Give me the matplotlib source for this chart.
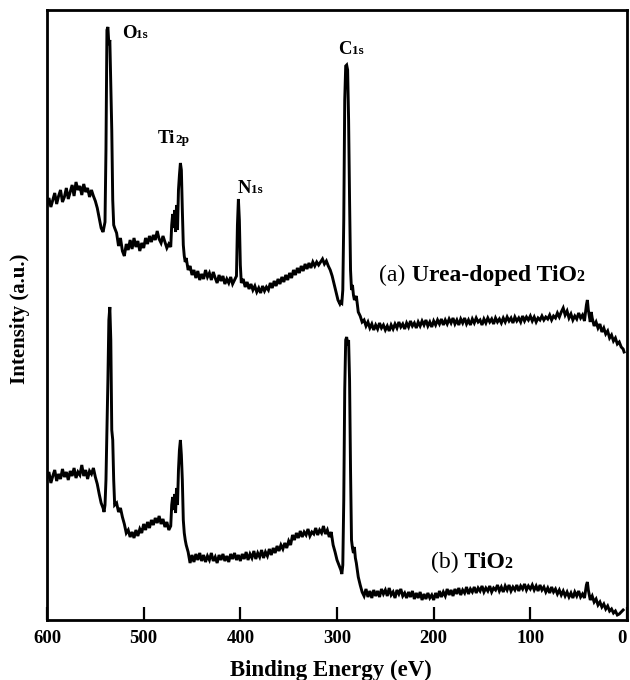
import matplotlib
matplotlib.use("Agg")
import matplotlib.pyplot as plt
from matplotlib.offsetbox import TextArea, HPacker, AnnotationBbox

# ---------------- data ----------------
# binding-energy sampling grid (eV), denser around the peaks
energy_a = (list(range(600, 539, -2)) + list(range(539, 529, -1)) + list(range(528, 471, -2))
            + list(range(471, 455, -1)) + list(range(454, 403, -2)) + list(range(403, 398, -1))
            + list(range(397, 296, -2)) + list(range(296, 281, -1)) + list(range(280, 43, -2))
            + [42, 41, 40, 38, 37, 36] + list(range(34, 3, -2)) + [3])

intensity_a = [
    415, 422, 413, 420, 427, 416, 424, 430, 418, 423, 432, 421, 428, 435, 424, 438,
    430, 434, 425, 436, 428, 432, 423, 430, 424, 419, 412, 402, 392, 388, 398,
    470, 590, 593, 575, 580, 535, 490, 420, 395, 392,
    387, 374, 382, 369, 364, 376, 370, 380, 371, 382, 373, 379, 369, 377, 372,
    382, 376, 384, 378, 385, 380, 389, 381, 377, 384, 378, 372, 376, 373,
    395, 406, 392, 410, 388, 415, 390, 430, 445, 457, 450, 410, 375, 364, 358, 362,
    350, 354, 345, 350, 342, 349, 340, 346, 341, 350, 343, 347, 340, 348, 342,
    337, 345, 339, 344, 336, 341, 337, 343, 336, 340, 344,
    395, 421, 400, 355, 337,
    341, 333, 338, 331, 336, 330, 334, 328, 332, 327, 334, 329, 333, 330, 337,
    332, 339, 334, 341, 336, 343, 338, 345, 340, 347, 342, 350, 345, 352, 347,
    354, 349, 356, 351, 357, 352, 358, 354, 358, 355, 358, 361, 356, 359, 354,
    350, 344, 336, 328, 320, 316,
    318, 317, 330, 400, 520, 554, 555, 550, 500, 420, 350, 330, 335, 325, 320,
    324, 308, 304, 298, 300, 294, 298, 292, 296, 290, 295, 291, 297, 292, 295,
    290, 294, 289, 295, 291, 296, 292, 298, 293, 296, 291, 297, 293, 299, 294,
    297, 292, 298, 294, 299, 295, 300, 294, 298, 293, 299, 295, 300, 296, 301,
    295, 300, 296, 301, 297, 302, 296, 300, 295, 301, 297, 302, 296, 300, 295,
    301, 297, 302, 298, 300, 295, 301, 297, 302, 298, 301, 296, 302, 298, 301,
    297, 302, 298, 303, 299, 302, 297, 303, 299, 302, 298, 304, 299, 303, 300,
    304, 299, 303, 298, 302, 300, 304, 300, 303, 301, 305, 300, 304, 302, 307,
    303, 308, 312, 305, 309, 302, 306, 300, 304, 301, 307, 302, 305, 299,
    315, 320, 310, 298, 308, 302,
    294, 298, 292, 296, 288, 292, 286, 289, 282, 285, 279, 282, 276, 278, 273, 271,
    268,
]

energy_b = (list(range(600, 541, -2)) + list(range(541, 529, -1)) + list(range(528, 471, -2))
            + list(range(471, 455, -1)) + list(range(454, 295, -2)) + list(range(295, 277, -1))
            + list(range(276, 43, -2)) + [42, 41, 40] + list(range(38, 3, -2)))

intensity_b = [
    142, 148, 137, 144, 150, 139, 146, 141, 151, 143, 148, 140, 149, 144, 152,
    142, 148, 145, 155, 144, 150, 141, 149, 146, 152, 143, 136, 126, 117, 112,
    108, 115, 140, 190, 240, 300, 313, 280, 190, 180, 140, 115,
    117, 108, 112, 103, 96, 87, 90, 83, 88, 82, 90, 84, 91, 87, 96, 90, 98, 92,
    100, 95, 102, 97, 104, 96, 101, 93, 98, 90, 94,
    115, 123, 110, 126, 107, 132, 115, 150, 170, 180, 165, 140, 100, 87, 80, 75,
    68, 57, 65, 58, 66, 60, 67, 59, 65, 58, 64, 60, 67, 59, 63, 57, 65, 60, 66, 59,
    64, 58, 66, 61, 67, 60, 65, 59, 66, 61, 68, 60, 66, 62, 69, 61, 67, 63, 70, 62,
    68, 64, 71, 65, 72, 67, 74, 69, 75, 71, 77, 72, 79, 75, 85, 80, 87, 82, 89, 83,
    88, 85, 91, 84, 88, 86, 92, 85, 90, 87, 94, 86, 90, 83, 88, 75, 68, 60, 55, 50,
    46, 55, 120, 230, 280, 283, 275, 280, 240, 150, 80, 72, 67, 73, 62, 57, 50, 43,
    35, 28, 24, 31, 23, 29, 22, 30, 24, 29, 23, 31, 26, 30, 24, 32, 25, 28, 22, 30,
    26, 31, 24, 27, 22, 28, 23, 29, 21, 27, 22, 28, 20, 26, 21, 27, 22, 25, 20, 27,
    22, 29, 23, 28, 24, 31, 25, 30, 24, 31, 26, 32, 25, 30, 27, 33, 26, 31, 28, 33,
    27, 32, 29, 34, 28, 32, 29, 34, 28, 32, 30, 35, 29, 33, 28, 34, 30, 35, 29, 33,
    30, 35, 29, 34, 31, 36, 30, 34, 31, 35, 30, 34, 29, 35, 30, 33, 28, 32, 27, 33,
    28, 31, 26, 30, 25, 29, 24, 28, 23, 27, 22, 28, 24, 29, 23, 26, 22,
    35, 38, 30,
    20, 24, 18, 21, 15, 18, 13, 16, 11, 14, 9, 11, 7, 9, 5, 6, 8, 10,
]

x_ticks = [600, 500, 400, 300, 200, 100, 0]
x_tick_labels = ["600", "500", "400", "300", "200", "100", "0"]

peak_labels = [("O", "1s"), ("Ti", "2p"), ("N", "1s"), ("C", "1s")]
peak_label_pos = [(0.129, 0.962), (0.191, 0.790), (0.329, 0.708), (0.502, 0.936)]

assert len(energy_a) == len(intensity_a), (len(energy_a), len(intensity_a))
assert len(energy_b) == len(intensity_b), (len(energy_b), len(intensity_b))

# ---------------- figure ----------------
SERIF = "Liberation Serif"
fig = plt.figure(figsize=(6.3, 6.8), dpi=100)
ax = fig.add_axes([47 / 630, 60 / 680, 580 / 630, 610 / 680])

ax.plot(energy_a, intensity_a, color="black", lw=2.1, solid_joinstyle="miter")
ax.plot(energy_b, intensity_b, color="black", lw=2.1, solid_joinstyle="miter")

ax.set_xlim(600, 0)
ax.set_ylim(0, 610)
ax.set_xticks(x_ticks)
ticklabels = ax.set_xticklabels(x_tick_labels, fontfamily=SERIF, fontweight="bold",
                                fontsize=13.5)
ticklabels[-1].set_horizontalalignment("right")
ax.tick_params(axis="x", direction="in", length=9.5, width=1.6, pad=7, top=False)
ax.set_yticks([])
for sp in ax.spines.values():
    sp.set_linewidth(2.0)


def rich(parts, xy):
    children = [TextArea(t, textprops=dict(fontfamily=SERIF, fontweight=w,
                                           fontsize=s, color="black"))
                for t, w, s in parts]
    box = HPacker(children=children, align="baseline", pad=0, sep=0)
    ab = AnnotationBbox(box, xy, xycoords="axes fraction", frameon=False,
                        box_alignment=(0, 0.5), pad=0)
    ax.add_artist(ab)


for (big, small), pos in zip(peak_labels, peak_label_pos):
    rich([(big, "bold", 13.5), (small, "bold", 9.5)], pos)

rich([("(a)", "normal", 17), (" Urea-doped TiO", "bold", 17), ("2", "bold", 11.5)],
     (0.573, 0.565))
rich([("(b)", "normal", 17), (" TiO", "bold", 17), ("2", "bold", 11.5)],
     (0.662, 0.095))

fig.text(331 / 630, 10 / 680, "Binding Energy (eV)", ha="center", va="center",
         fontfamily=SERIF, fontweight="bold", fontsize=16.5)
fig.text(20 / 630, 361 / 680, "Intensity (a.u.)", ha="center", va="center",
         rotation=90, fontfamily=SERIF, fontweight="bold", fontsize=15)

fig.savefig("out.png", dpi=100)
